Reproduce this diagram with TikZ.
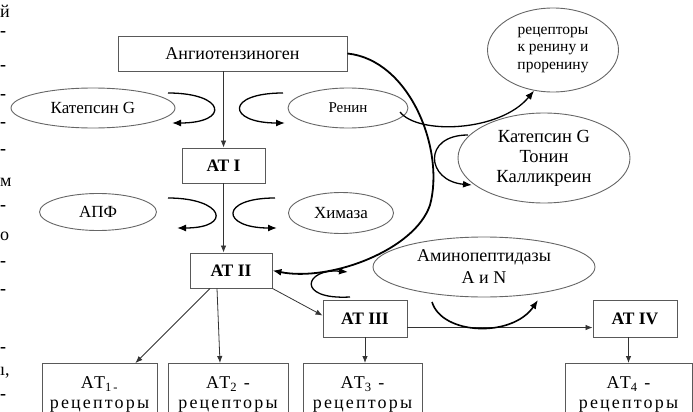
\documentclass[tikz,border=0pt]{standalone}
\usepackage{fontspec}
\setmainfont{Liberation Serif}
\usetikzlibrary{shapes.geometric,arrows.meta,calc}

\tikzset{
  box/.style={draw=black!65, line width=0.9pt, inner sep=0pt, font=\fontsize{17.5}{20}\selectfont\bfseries},
  rbox/.style={draw=black!65, line width=0.9pt, anchor=north, align=center, inner sep=0pt, minimum height=62pt, font=\fontsize{18}{20}\selectfont\addfontfeatures{LetterSpace=12}},
  enz/.style={ellipse, draw=black!60, line width=0.9pt, inner sep=0pt, align=center, font=\fontsize{17}{19}\selectfont},
  flow/.style={draw=black!80, line width=0.8pt, -{Latex[length=7pt,width=5.5pt]}},
  react/.style={line width=1.3pt, -{Latex[length=9pt,width=7pt]}},
  frag/.style={anchor=west, inner sep=0pt, font=\fontsize{18}{20}\selectfont},
}

\begin{document}
\begin{tikzpicture}[x=1pt,y=-1pt]
\useasboundingbox (0,0) rectangle (693,412);

% cut text at the left margin
\node[frag] (fy) at (0,11) {й};
\foreach \yy in {34,68,97,125,152,208,264,292,350,397}
  \node[frag] (fd\yy) at (0,\yy) {\bfseries -};
\node[frag] (fm) at (0,182) {м};
\node[frag] (fo) at (0,236) {о};
\node[frag] (fn) at (0,373) {ı,};

% cascade
\node[box, minimum width=229pt, minimum height=35pt, font=\fontsize{18}{20}\selectfont] (agt) at (232.5,53.5) {Ангиотензиноген};
\node[box, minimum width=83pt, minimum height=35pt] (at1) at (223.5,165.5) {АТ I};
\node[box, minimum width=82pt, minimum height=35pt] (at2) at (231,270.5) {АТ II};
\node[box, minimum width=84pt, minimum height=37pt] (at3) at (365,318.5) {АТ III};
\node[box, minimum width=84pt, minimum height=37pt] (at4) at (635,318.5) {АТ IV};

\node[rbox, minimum width=115pt] (r1) at (99.5,363) {AT\textsubscript{1\,-}\\рецепторы};
\node[rbox, minimum width=120pt] (r2) at (228,363) {AT\textsubscript{2} -\\рецепторы};
\node[rbox, minimum width=119pt] (r3) at (362.5,363) {AT\textsubscript{3} -\\рецепторы};
\node[rbox, minimum width=127pt] (r4) at (628.5,363) {AT\textsubscript{4} -\\рецепторы};

% enzymes
\node[enz, minimum width=164pt, minimum height=40pt] (catg) at (93,108) {Катепсин G};
\node[enz, minimum width=120pt, minimum height=40pt, font=\fontsize{15}{17}\selectfont] (renin) at (348,108) {Ренин};
\node[enz, minimum width=117pt, minimum height=37pt] (ace) at (98,212) {АПФ};
\node[enz, minimum width=105pt, minimum height=41pt] (chym) at (341,213) {Химаза};
\node[enz, minimum width=131pt, minimum height=84pt, font=\fontsize{15.5}{17.5}\selectfont] (rec) at (553,50) {рецепторы\\к ренину и\\проренину};
\node[enz, minimum width=172pt, minimum height=90pt, font=\fontsize{18.5}{20}\selectfont] (ctk) at (544,158) {Катепсин G\\Тонин\\Калликреин};
\node[enz, minimum width=222pt, minimum height=60pt, font=\fontsize{18}{22}\selectfont] (amp) at (484,267) {Аминопептидазы\\А и N};

% straight arrows
\draw[flow] (agt.south -| at1.north) -- (at1.north);
\draw[flow] (at1.south) -- (at1.south |- at2.north);
\draw[flow] ($(at2.south)+(-21,0)$) -- ($(r1.north)+(36,0)$);
\draw[flow] ($(at2.south)+(-14,0)$) -- ($(r2.north)+(-8,0)$);
\draw[flow] (at2.south east) -- ($(at3.west)+(0,-3)$);
\draw[flow] ($(at3.east)+(0,9)$) -- ($(at4.west)+(0,9)$);
\draw[flow] (at3.south) -- (at3.south |- r3.north);
\draw[flow] (r4.north |- at4.south) -- (r4.north);

% enzyme arcs
\coordinate (k1) at (168,93);
\coordinate (k2) at (283,93);
\coordinate (k3) at (168,198);
\coordinate (k4) at (275,198);
\coordinate (k5) at (468,135);
\coordinate (k6) at (400,112);
\coordinate (k7) at (350,297);
\coordinate (k8) at (432,302);
\draw[react] (k1) .. controls +(58,0) and +(58,0) .. +(4,30);
\draw[react] (k2) .. controls +(-58,0) and +(-58,0) .. +(2,30);
\draw[react] (k3) .. controls +(56,0) and +(56,0) .. +(9,30);
\draw[react] (k4) .. controls +(-56,0) and +(-56,0) .. +(2,30);
\draw[react] (k5) .. controls +(-46,0) and +(-46,-4) .. +(4,50);
\draw[react] (k6) .. controls (418,135) and (500,132) .. (rec.245);
\draw[react] (k7) .. controls (295,300) and (305,268) .. (348,272);
\draw[react, line width=1.6pt] (k8) .. controls (442,335) and (512,338) .. (538,300);

% big arc back to AT II
\draw[react, line width=1.8pt] (agt.east) .. controls (410,60) and (445,150) .. (430,205)
  .. controls (415,250) and (330,282) .. (at2.east);
\end{tikzpicture}
\end{document}
